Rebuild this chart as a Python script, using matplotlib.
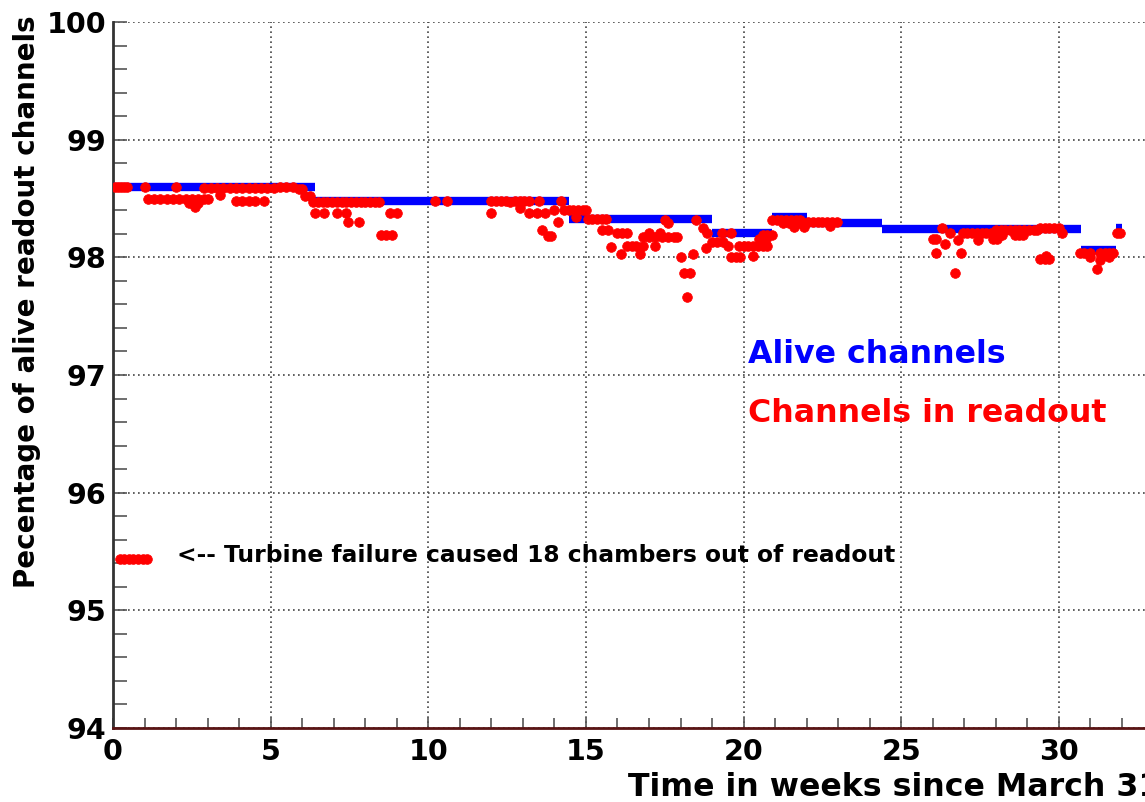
import matplotlib
matplotlib.use("Agg")
import matplotlib.pyplot as plt
from matplotlib.ticker import MultipleLocator

# Alive channels: step levels (week where level starts, percentage)
alive_weeks = [0.0, 6.4, 14.45, 19.0, 20.9, 22.0, 24.4, 30.7, 31.8, 32.0]
alive_pct = [98.60, 98.48, 98.33, 98.21, 98.34, 98.29, 98.24, 98.06, 98.25]

# Channels in readout: individual measurements
readout_weeks = [
    0.05, 0.15, 0.25, 0.35, 0.45, 1.0, 2.0,
    1.1, 1.3, 1.5, 1.7, 1.9, 2.1, 2.3, 2.5, 2.7, 2.9, 3.0,
    2.4, 2.6, 2.7, 2.6,
    2.9, 3.1, 3.3, 3.5, 3.7, 3.9, 4.1, 4.3, 4.5, 4.7, 4.9, 5.1, 5.3, 5.5, 5.7, 5.9, 6.0,
    3.4, 3.9, 4.1, 4.3, 4.5, 4.8, 6.1, 6.25,
    6.35, 6.5, 6.65, 6.8, 6.95, 7.1, 7.25, 7.4, 7.55, 7.7, 7.85, 8.0, 8.15, 8.3, 8.45,
    6.4, 6.7, 7.1, 7.4, 8.8, 9.0,
    7.45, 7.8,
    8.5, 8.65, 8.85,
    10.2, 10.6,
    12.0, 12.15, 12.3, 12.45, 12.6, 12.75, 12.9, 13.05, 13.2, 13.5, 14.2,
    12.0, 12.9, 13.2, 13.45, 13.7, 14.0, 14.1,
    13.6, 13.8, 13.9,
    14.3, 14.45, 14.6, 14.75, 14.9, 15.0, 14.7,
    15.05, 15.2, 15.35, 15.5, 15.65,
    15.5, 15.7, 16.0, 16.15, 16.3,
    15.8, 16.1, 16.3, 16.45, 16.6, 16.8, 16.7,
    17.0, 17.35, 16.8, 17.0, 17.2, 17.4, 17.6, 17.2,
    17.5, 17.6, 17.8, 17.9,
    18.0, 18.1, 18.3, 18.2, 18.4,
    18.5, 18.7, 18.85, 18.8,
    19.0, 19.15, 19.35, 19.3, 19.6, 19.5,
    19.6, 19.75, 19.9,
    19.85, 20.0, 20.15, 20.3, 20.45, 20.6, 20.75, 20.3,
    20.6, 20.75, 20.9, 20.5, 20.7,
    20.9, 21.05, 21.2, 21.35, 21.5, 21.65, 21.8,
    21.25, 21.45, 21.7, 21.9, 21.6, 21.9,
    22.05, 22.2, 22.35, 22.5, 22.65, 22.8, 22.95, 22.75,
    26.0, 26.1, 26.3, 26.1, 26.4, 26.55, 26.8, 26.9, 26.7,
    26.95, 27.1, 27.25, 27.4, 27.55, 27.7, 27.85,
    28.0, 28.15, 28.3, 28.45, 28.6, 28.75, 28.9, 29.05, 29.2, 29.3,
    27.45, 27.9, 28.05, 28.2, 28.6, 28.75, 28.85,
    29.4, 29.55, 29.7, 29.85, 30.0, 30.1,
    29.4, 29.55, 29.7, 29.6,
    30.67, 30.8, 31.0, 31.3, 31.45, 31.6, 31.7,
    31.0, 31.6, 31.3, 31.2, 31.5,
    31.85, 31.95,
    0.22, 0.36, 0.5, 0.65, 0.8, 0.95, 1.08,
]
readout_pct = [
    98.60, 98.60, 98.60, 98.60, 98.60, 98.60, 98.60,
    98.50, 98.50, 98.50, 98.50, 98.50, 98.50, 98.50, 98.50, 98.50, 98.50, 98.50,
    98.46, 98.46, 98.46, 98.43,
    98.59, 98.59, 98.59, 98.59, 98.59, 98.59, 98.59, 98.59, 98.59, 98.59, 98.59, 98.59, 98.60, 98.60, 98.60, 98.58, 98.58,
    98.53, 98.48, 98.48, 98.48, 98.48, 98.48, 98.52, 98.52,
    98.47, 98.47, 98.47, 98.47, 98.47, 98.47, 98.47, 98.47, 98.47, 98.47, 98.47, 98.47, 98.47, 98.47, 98.47,
    98.38, 98.38, 98.38, 98.38, 98.38, 98.38,
    98.30, 98.30,
    98.19, 98.19, 98.19,
    98.48, 98.48,
    98.48, 98.48, 98.48, 98.48, 98.47, 98.48, 98.48, 98.48, 98.48, 98.48, 98.48,
    98.38, 98.42, 98.38, 98.38, 98.38, 98.40, 98.30,
    98.23, 98.18, 98.18,
    98.40, 98.40, 98.40, 98.40, 98.40, 98.40, 98.34,
    98.33, 98.33, 98.33, 98.33, 98.33,
    98.23, 98.23, 98.21, 98.21, 98.21,
    98.09, 98.03, 98.10, 98.10, 98.10, 98.10, 98.03,
    98.21, 98.21, 98.17, 98.17, 98.17, 98.17, 98.17, 98.10,
    98.32, 98.29, 98.17, 98.17,
    98.00, 97.87, 97.87, 97.66, 98.03,
    98.32, 98.25, 98.21, 98.08,
    98.13, 98.13, 98.13, 98.21, 98.21, 98.10,
    98.00, 98.00, 98.00,
    98.10, 98.10, 98.10, 98.10, 98.10, 98.10, 98.10, 98.01,
    98.19, 98.19, 98.19, 98.16, 98.16,
    98.32, 98.32, 98.32, 98.32, 98.32, 98.32, 98.32,
    98.29, 98.29, 98.29, 98.29, 98.26, 98.26,
    98.30, 98.30, 98.30, 98.30, 98.30, 98.30, 98.30, 98.27,
    98.16, 98.16, 98.25, 98.04, 98.11, 98.21, 98.15, 98.04, 97.87,
    98.21, 98.21, 98.21, 98.21, 98.21, 98.21, 98.21,
    98.23, 98.23, 98.23, 98.23, 98.23, 98.23, 98.23, 98.23, 98.23, 98.23,
    98.15, 98.16, 98.16, 98.19, 98.19, 98.19, 98.19,
    98.25, 98.25, 98.25, 98.25, 98.25, 98.21,
    97.99, 97.99, 97.99, 98.01,
    98.04, 98.04, 98.04, 98.04, 98.04, 98.04, 98.04,
    98.00, 98.00, 97.98, 97.90, 98.02,
    98.21, 98.21,
    95.44, 95.44, 95.44, 95.44, 95.44, 95.44, 95.44,
]

y_tick_values = [94, 95, 96, 97, 98, 99, 100]
y_tick_labels = ["94", "95", "96", "97", "98", "99", "100"]

FONT = "DejaVu Sans"
W, H = 1145, 802
fig = plt.figure(figsize=(W / 100, H / 100), dpi=100)

# axes: x=0 at px 113, 31.53 px per week; y=100 at px 22, y=94 at px 728
x_max = 34.0
left_px, bottom_px, top_px = 113, 728, 22
ax = fig.add_axes([left_px / W, 1 - bottom_px / H,
                   x_max * 31.53 / W, (bottom_px - top_px) / H])
ax.set_xlim(0, x_max)
ax.set_ylim(94, 100)

# alive-channel levels as flat bands, one per period
ax.hlines(alive_pct, alive_weeks[:-1], alive_weeks[1:], color="#0000ff",
          linewidth=6, capstyle="butt", zorder=3)
ax.plot(readout_weeks, readout_pct, linestyle="none", marker="o",
        markersize=7, markerfacecolor="#ff0000", markeredgecolor="#ff0000",
        markeredgewidth=0.5, zorder=4)

ax.xaxis.set_major_locator(MultipleLocator(5))
ax.xaxis.set_minor_locator(MultipleLocator(1))
ax.yaxis.set_minor_locator(MultipleLocator(0.2))
ax.grid(True, which="major", color="#444444", linestyle=(0, (1, 2)),
        linewidth=1.2, zorder=1)
ax.set_axisbelow(True)

for s in ("top", "right"):
    ax.spines[s].set_visible(False)
ax.spines["left"].set_color("#333333")
ax.spines["left"].set_linewidth(2)
ax.spines["bottom"].set_color("#5a1414")
ax.spines["bottom"].set_linewidth(2)

ax.tick_params(axis="x", which="both", direction="in", length=7,
               width=1.2, color="#555555", pad=7)
ax.tick_params(axis="y", which="both", direction="in", length=10,
               width=1.2, color="#555555", pad=5)

ax.set_yticks(y_tick_values)
ax.set_yticklabels(y_tick_labels, fontfamily=FONT, fontweight="bold",
                   fontsize=20.5)
for lbl in ax.get_xticklabels():
    lbl.set_fontfamily(FONT)
    lbl.set_fontweight("bold")
    lbl.set_fontsize(20.5)

ax.text(20.14, 97.10, "Alive channels", color="#0000ff", fontsize=22.8,
        fontfamily=FONT, fontweight="bold", ha="left", va="baseline")
ax.text(20.14, 96.60, "Channels in readout", color="#ff0000", fontsize=22.8,
        fontfamily=FONT, fontweight="bold", ha="left", va="baseline")
ax.text(2.03, 95.41, "<-- Turbine failure caused 18 chambers out of readout",
        color="black", fontsize=16.8, fontfamily=FONT, fontweight="bold",
        ha="left", va="baseline")

fig.text(628 / W, 1 - 796 / H, "Time in weeks since March 31",
         fontsize=22.8, fontfamily=FONT, fontweight="bold",
         ha="left", va="baseline")
fig.text(27 / W, 1 - 302 / H, "Pecentage of alive readout channels",
         fontsize=20, fontfamily=FONT, fontweight="bold",
         rotation=90, ha="center", va="center")

fig.savefig("out.png", dpi=100)
